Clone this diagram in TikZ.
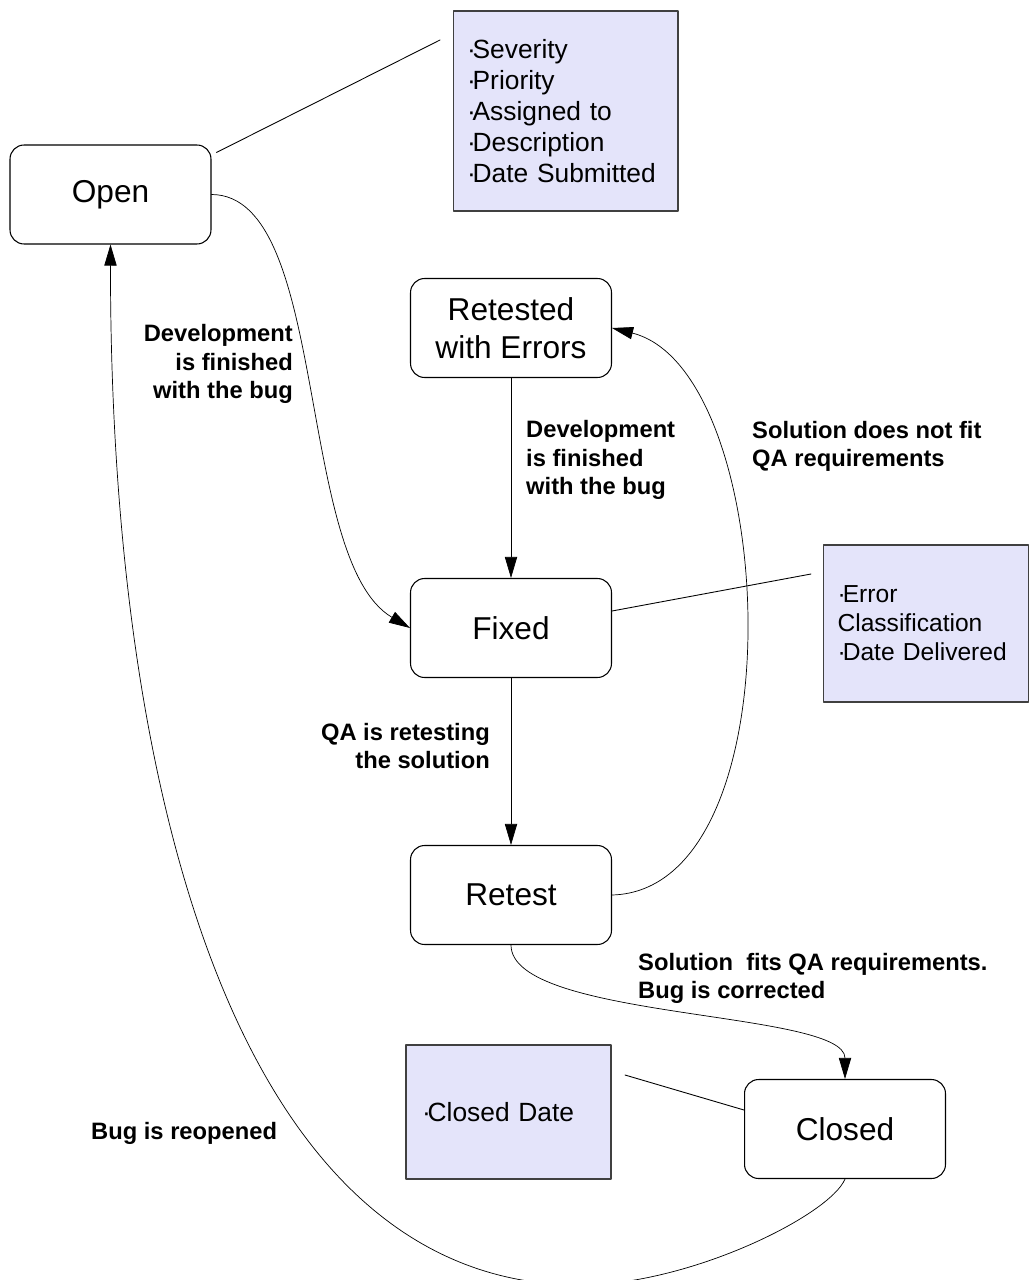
\documentclass[tikz,border=0pt]{standalone}
\usepackage{fontspec}
\setmainfont{Liberation Sans}
\usetikzlibrary{arrows.meta}
\definecolor{notefill}{RGB}{228,228,250}
\hyphenpenalty=10000
\newcommand{\dotitem}{·\kern-0.12em}
\begin{document}
\begin{tikzpicture}[x=0.02cm, y=-0.02cm, line join=round, line cap=round, >={Triangle[length=12pt,width=7pt]},
	state/.style={draw, rounded corners=8pt, line width=0.6pt, minimum width=4.02cm, minimum height=1.98cm, align=center, font=\fontsize{18}{21.6}\selectfont},
	note/.style={draw=black!75, fill=notefill, line width=0.6pt, align=left, inner xsep=0.28cm, font=\fontsize{15}{17.6}\selectfont},
	lab/.style={font=\bfseries\fontsize{13.5}{16}\selectfont}]
	\useasboundingbox (0,0) rectangle (1029,1280);
	% states
	\node[state] (open) at (110.5,194.5) {Open};
	\node[state] (retested) at (511,328) {Retested\\with Errors};
	\node[state] (fixed) at (511,628) {Fixed};
	\node[state] (retest) at (511,895) {Retest};
	\node[state] (closed) at (845,1129) {Closed};
	% notes
	\node[note, text width=3.94cm, minimum height=4cm] (opennote) at (565.5,111) {\dotitem Severity\\\dotitem Priority\\\dotitem Assigned to\\\dotitem Description\\\dotitem Date Submitted};
	\node[note, text width=3.54cm, minimum height=3.14cm, font=\fontsize{14}{16.5}\selectfont] (fixednote) at (926,623.5) {\dotitem Error\\Classification\\\dotitem Date Delivered};
	\node[note, text width=3.46cm, inner xsep=0.32cm, minimum height=2.68cm] (closednote) at (508.5,1112) {\dotitem Closed Date};
	\coordinate (opentip) at (440,40);
	\coordinate (fixedtip) at (811,574);
	\coordinate (closedtip) at (625,1075);
	\coordinate (dip) at (580,1285);
	\draw[line width=0.5pt] ([shift={(5,8)}]open.north east) -- (opentip);
	\draw[line width=0.5pt] ([yshift=0.34cm]fixed.east) -- (fixedtip);
	\draw[line width=0.5pt] ([yshift=0.38cm]closed.west) -- (closedtip);
	% transitions
	\draw[->] (retested) -- (fixed);
	\draw[->] (fixed) -- (retest);
	\draw[->] (open.east) .. controls (330,195) and (295,560) .. (fixed.west);
	\draw[->] (retest.east) .. controls (800,890) and (780,370) .. (retested.east);
	\draw[->] (retest.south) .. controls (511,1020) and (845,1010) .. (closed.north);
	\draw[->] (closed.south) .. controls (830,1215) and (690,1285) .. (dip) .. controls (240,1285) and (110,800) .. (open.south);
	% labels
	\node[lab, anchor=east, align=right] (devopen) at (299,364) {Development\\is finished\\with the bug};
	\node[lab, anchor=west, align=left] (devretested) at (520,460) {Development\\is finished\\with the bug};
	\node[lab, anchor=west, align=left] (nofit) at (746,446) {Solution does not fit\\QA requirements};
	\node[lab, anchor=east, align=right] (retesting) at (496,746) {QA is retesting\\the solution};
	\node[lab, anchor=west, align=left] (fits) at (632,978) {Solution~~fits QA requirements.\\Bug is corrected};
	\node[lab, anchor=west] (reopened) at (85,1133) {Bug is reopened};
\end{tikzpicture}
\end{document}
